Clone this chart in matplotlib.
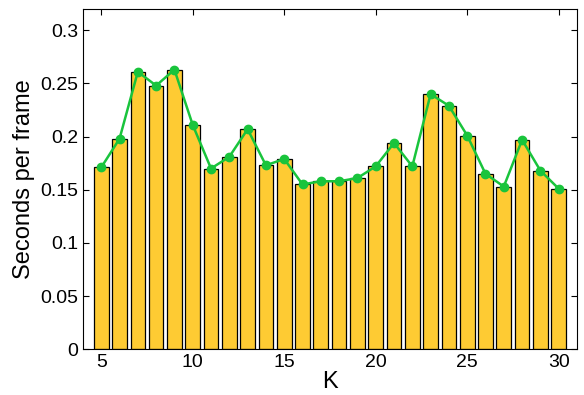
import numpy as np
import matplotlib.pyplot as plt

plt.rcParams['font.family'] = ['Liberation Sans', 'DejaVu Sans']

k = np.arange(5, 31)
sec_per_frame = [0.171, 0.198, 0.261, 0.248, 0.263, 0.211, 0.170, 0.181, 0.207,
                 0.173, 0.179, 0.155, 0.158, 0.158, 0.161, 0.172, 0.194, 0.172,
                 0.240, 0.229, 0.201, 0.165, 0.153, 0.197, 0.168, 0.151]

fig = plt.figure(figsize=(5.84, 3.95), dpi=100)
ax = fig.add_axes([0.142, 0.116, 0.846, 0.861])

ax.bar(k, sec_per_frame, width=0.8, color='#FECB33', edgecolor='black', linewidth=0.9, zorder=2)
ax.plot(k, sec_per_frame, '-o', color='#19C43C', lw=1.8, ms=6, zorder=3)

ax.set_xlim(4.0, 31.0)
ax.set_ylim(0, 0.32)
ax.set_xticks([5, 10, 15, 20, 25, 30])
ax.set_yticks([0, 0.05, 0.1, 0.15, 0.2, 0.25, 0.3])
ax.set_yticklabels(['0', '0.05', '0.1', '0.15', '0.2', '0.25', '0.3'])
ax.tick_params(direction='in', top=True, right=True, labelsize=14, length=4, width=0.8)
ax.set_xlabel('K', fontsize=17, labelpad=0)
ax.set_ylabel('Seconds per frame', fontsize=17, labelpad=4)

fig.savefig('out.png')
